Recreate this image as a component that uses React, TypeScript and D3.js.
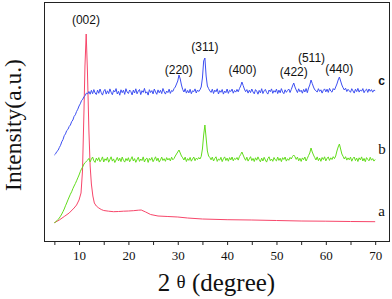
import { useEffect, useRef } from "react";
import * as d3 from "d3";

// 2θ grid shared by the b and c patterns (step 0.25°)
const twoTheta = d3.range(5, 70.001, 0.25);

// c : blue pattern (one row = 5°)
const intensityC = [
  86, 87.2, 89.5, 90.6, 93.4, 95.7, 99.2, 101.5, 105.3, 107.1, 110.4, 111.6, 114.5, 116.0, 119.3, 121.0, 124.6, 126.2, 129.5, 131.8,
  135, 137.2, 140.3, 141.8, 144.2, 145.6, 147.9, 147.2, 149.5, 146.8, 150.7, 147.3, 151.4, 148.0, 146.5, 150.9, 147.7, 152.0, 148.4, 145.9,
  149.8, 151.6, 146.9, 150.2, 147.4, 152.1, 148.8, 146.3, 150.6, 149.1, 152.4, 147.0, 149.7, 145.8, 151.2, 148.3, 150.8, 146.6, 152.3, 148.9,
  147.5, 151.0, 149.4, 146.1, 150.9, 148.0, 152.2, 147.2, 149.9, 151.5, 146.4, 150.3, 148.6, 152.6, 147.8, 149.2, 145.9, 151.3, 148.5, 150.4,
  147.1, 152.0, 149.0, 146.7, 151.1, 148.2, 150.7, 147.4, 152.5, 149.3, 146.9, 150.0, 148.4, 151.8, 147.6, 150.5, 149.6, 152.4, 154, 157,
  160, 166, 162, 156, 151.5, 149.0, 152.3, 147.9, 150.6, 148.1, 151.7, 147.3, 150.2, 149.4, 152.1, 148.0, 151.0, 149.5, 151.2, 154,
  163, 180, 183, 165, 155, 152.4, 150.1, 148.6, 151.8, 147.5, 150.9, 149.2, 152.2, 147.0, 150.4, 148.7, 151.5, 146.9, 150.0, 148.3,
  152.0, 147.6, 150.7, 149.5, 151.9, 147.8, 150.5, 148.9, 151.6, 149.2, 152.4, 155, 159, 155.5, 152.0, 149.3, 151.4, 147.9, 150.8, 148.4,
  152.0, 149.0, 147.2, 151.4, 149.8, 146.8, 150.6, 148.1, 152.3, 147.5, 150.2, 151.6, 148.6, 146.9, 151.0, 149.3, 152.1, 147.7, 150.4, 148.8,
  151.9, 147.4, 150.9, 148.2, 152.4, 149.0, 147.3, 151.2, 148.7, 150.6, 152.0, 148.5, 151.5, 155, 158, 154, 151.0, 148.4, 152.2, 149.3,
  150.8, 147.8, 151.6, 149.0, 152.5, 148.3, 153, 156, 161, 157.5, 154, 151.2, 150.4, 148.9, 152.3, 149.6, 151.2, 147.9, 150.7, 152.1,
  149.1, 151.8, 148.6, 152.6, 150.0, 148.8, 152.4, 151.0, 154, 157, 161, 164, 160, 156, 153.2, 151.0, 152.8, 149.5, 151.7, 150.2,
  148.7, 152.3, 150.1, 147.9, 151.8, 149.4, 152.6, 148.9, 151.1, 149.8, 152.4, 148.3, 150.7, 151.9, 148.6, 152.0, 149.7, 151.4, 148.8, 150.9,
  150.3
];

// b : green pattern (one row = 5°)
const intensityB = [
  18.3, 19.0, 20.2, 21.5, 23.0, 24.8, 27.0, 29.4, 32.0, 35.2, 38.0, 41.1, 44.0, 46.8, 49.2, 52.3, 55.0, 57.4, 60.2, 63.1,
  66.0, 69.3, 72.1, 74.2, 77.0, 78.4, 79.8, 80.9, 82.6, 79.1, 81.8, 84.0, 80.2, 78.6, 82.9, 80.5, 83.4, 79.3, 81.2, 84.1,
  79.0, 82.2, 80.6, 83.7, 78.8, 81.5, 84.2, 79.9, 82.1, 78.5, 81.0, 83.6, 80.1, 82.8, 79.4, 84.0, 80.7, 78.9, 82.5, 80.3,
  83.3, 79.2, 81.7, 84.3, 80.0, 82.4, 78.7, 81.3, 83.8, 79.6, 82.0, 80.4, 84.1, 79.0, 81.9, 83.0, 78.6, 82.6, 80.8, 83.5,
  79.3, 81.6, 84.2, 80.2, 82.9, 78.9, 81.1, 83.9, 80.5, 82.3, 79.7, 83.4, 81.0, 82.7, 80.1, 83.8, 81.2, 82.5, 85, 87,
  89, 91, 88, 85, 83.2, 81.0, 83.9, 79.5, 82.4, 80.6, 83.6, 79.8, 82.1, 84.0, 80.3, 82.8, 81.5, 83.5, 82.0, 84.5,
  92, 106, 116, 103, 90, 85, 83.5, 81.2, 83.9, 80.0, 82.6, 84.2, 79.6, 82.0, 80.9, 83.7, 79.4, 82.3, 84.1, 80.5,
  82.9, 79.8, 83.4, 81.1, 84.0, 80.2, 82.7, 81.6, 83.5, 80.9, 84.5, 86.5, 89, 86, 83.0, 80.7, 83.8, 79.9, 82.2, 84.3,
  80.4, 82.6, 79.5, 83.2, 80.8, 84.1, 81.4, 79.2, 82.9, 80.0, 83.7, 81.0, 78.9, 82.4, 84.2, 80.3, 82.0, 79.7, 83.5, 81.2,
  80.1, 83.9, 80.6, 82.8, 79.4, 83.3, 81.5, 84.0, 79.9, 82.3, 80.7, 83.6, 82.0, 84.5, 86, 84.2, 81.6, 83.9, 80.2, 82.7,
  79.6, 83.1, 81.3, 84.0, 80.0, 82.6, 85.5, 88, 93, 89, 86, 83.4, 81.0, 84.1, 80.3, 82.9, 79.7, 83.5, 81.4, 84.2,
  80.1, 82.8, 84.0, 80.6, 83.2, 81.5, 84.3, 82.4, 85, 90, 94, 97, 92, 87, 84.6, 82.0, 84.3, 80.9, 83.1, 81.2,
  83.9, 79.8, 82.5, 84.0, 80.4, 82.9, 79.5, 83.2, 81.1, 84.1, 80.0, 82.6, 79.3, 83.4, 81.6, 80.2, 83.7, 80.8, 82.4, 79.9,
  81.5
];

// a : red pattern (own grid, denser around the (002) peak)
const twoThetaA = [
  5, 6, 7, 8, 9, 9.5, 10, 10.4, 10.7, 11, 11.2, 11.45, 11.7, 12, 12.25, 12.5,
  12.8, 13.1, 13.5, 14, 14.5, 15, 16, 17, 18, 19, 20, 21, 22, 22.6, 23.5,
  24.5, 26, 28, 30, 32, 35, 40, 45, 50, 55, 60, 65, 70
];
const intensityA = [
  18.3, 21, 24.5, 28, 33, 36, 41, 48, 70, 130, 175, 207, 170, 110, 75, 57,
  45, 38, 35, 33, 31.5, 30.5, 29.8, 29.3, 29.5, 29.8, 30, 30.3, 30.8, 31, 29,
  26.5, 25, 24.5, 24, 23, 22, 21.3, 21, 20.5, 20, 19.8, 19.5, 19.3
];

// reflections (hkl) and their 2θ positions
const peakLabels = ["(002)", "(220)", "(311)", "(400)", "(422)", "(511)", "(440)"];
const peakTheta = [11.4, 30.2, 35.5, 43.1, 53.5, 57.1, 62.7];
const peakLabelLevel = [217, 167, 190, 167, 165, 179, 168];

const seriesNames = ["a", "b", "c"];

const COLORS: Record<string, string> = {
  a: "#f7466a",
  b: "#62dc1c",
  c: "#3d4ff2"
};

const App = () => {
  const svgRef = useRef<SVGSVGElement>(null);

  useEffect(() => {
    if (!svgRef.current) return;
    const width = 392;
    const height = 299;
    const margin = { top: 2, right: 3, bottom: 58, left: 44 };
    const innerWidth = width - margin.left - margin.right;
    const innerHeight = height - margin.top - margin.bottom;

    const svg = d3.select(svgRef.current);
    svg.selectAll("*").remove();

    svg.append("rect").attr("width", width).attr("height", height).attr("fill", "#fff");

    const g = svg.append("g").attr("transform", `translate(${margin.left},${margin.top})`);

    const xScale = d3.scaleLinear().domain([2.9, 72.8]).range([0, innerWidth]);
    const yScale = d3.scaleLinear().domain([0, 239]).range([innerHeight, 0]);

    // Eixo X
    const xAxis = g
      .append("g")
      .attr("transform", `translate(0,${innerHeight})`)
      .call(
        d3.axisBottom(xScale)
          .tickValues(d3.range(5, 71, 5))
          .tickSize(4)
          .tickPadding(6)
          .tickFormat((d) => ((d as number) % 10 === 0 ? String(d) : ""))
      );
    xAxis.select(".domain").remove();
    xAxis.selectAll("line").attr("stroke", "#222");
    xAxis
      .selectAll("text")
      .attr("fill", "#111")
      .style("font-family", "'Liberation Serif', 'Times New Roman', serif")
      .style("font-size", "13px");

    // curves
    const line = d3
      .line<[number, number]>()
      .defined((d) => d[1] != null && !isNaN(d[1]))
      .x((d) => xScale(d[0]))
      .y((d) => yScale(d[1]));

    const curves: Record<string, [number, number][]> = {
      a: twoThetaA.map((t, i) => [t, intensityA[i]]),
      b: twoTheta.map((t, i) => [t, intensityB[i]]),
      c: twoTheta.map((t, i) => [t, intensityC[i]])
    };

    seriesNames.forEach((name) => {
      g.append("path")
        .datum(curves[name])
        .attr("fill", "none")
        .attr("stroke", COLORS[name])
        .attr("stroke-width", 1)
        .attr("stroke-linejoin", "round")
        .attr("d", line);
    });

    // frame
    g.append("rect")
      .attr("x", 0)
      .attr("y", 0)
      .attr("width", innerWidth)
      .attr("height", innerHeight)
      .attr("fill", "none")
      .attr("stroke", "#222")
      .attr("stroke-width", 1)
      .attr("shape-rendering", "crispEdges");

    // peak labels
    peakLabels.forEach((lbl, i) => {
      g.append("text")
        .attr("x", xScale(peakTheta[i]))
        .attr("y", yScale(peakLabelLevel[i]))
        .attr("text-anchor", "middle")
        .attr("fill", "#111")
        .style("font-family", "'Liberation Sans', Arial, sans-serif")
        .style("font-size", "12px")
        .text(lbl);
    });

    // series letters
    const lastLevel: Record<string, number> = {
      a: intensityA[intensityA.length - 1],
      b: intensityB[intensityB.length - 1],
      c: intensityC[intensityC.length - 1]
    };
    seriesNames.forEach((name) => {
      g.append("text")
        .attr("x", xScale(70.6))
        .attr("y", yScale(lastLevel[name]) - 6)
        .attr("fill", "#111")
        .style("font-family", name === "c"
          ? "'Liberation Sans', Arial, sans-serif"
          : "'Liberation Serif', 'Times New Roman', serif")
        .style("font-weight", name === "c" ? "700" : "400")
        .style("font-size", name === "c" ? "12px" : "15px")
        .text(name);
    });

    // X label
    const xLabel = svg
      .append("text")
      .attr("x", margin.left + innerWidth / 2)
      .attr("y", 291)
      .attr("text-anchor", "middle")
      .attr("fill", "#111")
      .style("font-family", "'Liberation Serif', 'Times New Roman', serif")
      .style("font-size", "25px");
    xLabel.append("tspan").text("2 ");
    xLabel.append("tspan").attr("dy", -3).style("font-size", "19px").text("θ");
    xLabel.append("tspan").attr("dy", 3).text(" (degree)");

    // Y label
    svg
      .append("text")
      .attr("transform", `translate(20.5,125) rotate(-90)`)
      .attr("text-anchor", "middle")
      .attr("fill", "#111")
      .style("font-family", "'Liberation Serif', 'Times New Roman', serif")
      .style("font-size", "23.5px")
      .text("Intensity(a.u.)");
  }, []);

  return (
    <svg
      ref={svgRef}
      width={392}
      height={299}
      style={{ position: "absolute", left: 0, top: 0, display: "block" }}
    />
  );
};

export default App;
